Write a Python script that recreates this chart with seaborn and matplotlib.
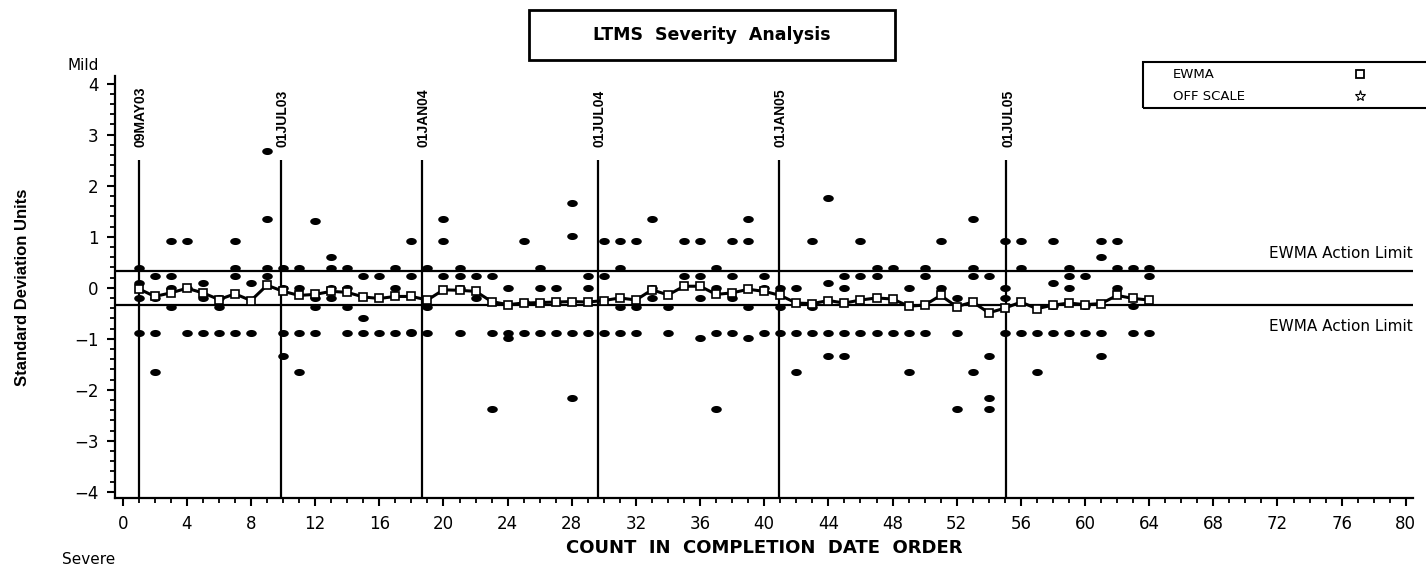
import numpy as np
import pandas as pd
import matplotlib
matplotlib.use("Agg")
import matplotlib.pyplot as plt
from matplotlib import font_manager
from matplotlib.lines import Line2D
from matplotlib.patches import Rectangle
from matplotlib.ticker import MultipleLocator
import seaborn as sns

# individual results per run (standard deviation units), run 1..64
run_results = [
    [0.39, 0.10, -0.21, -0.89], [0.235, -0.21, -0.89, -1.66], [0.92, 0.235, 0.0, -0.37],
    [0.92, 0.0, -0.89], [0.10, -0.21, -0.89], [-0.21, -0.37, -0.89],
    [0.92, 0.39, 0.235, -0.89], [0.10, -0.89], [2.69, 1.35, 0.39, 0.235],
    [0.39, 0.0, -0.89, -1.34], [0.39, 0.0, -0.89, -1.66], [1.31, -0.21, -0.37, -0.89],
    [0.61, 0.39, 0.0, -0.21], [0.39, 0.0, -0.37, -0.89], [0.235, -0.59, -0.89],
    [0.235, -0.89], [0.39, 0.0, -0.89], [0.92, 0.235, -0.87, -0.89],
    [0.39, -0.37, -0.89], [1.35, 0.92, 0.235], [0.39, 0.235, 0.0, -0.89],
    [0.235, -0.21], [0.235, -0.89, -2.38], [0.0, -0.89, -0.99],
    [0.92, -0.27, -0.89], [0.39, 0.0, -0.27, -0.89], [0.0, -0.27, -0.89],
    [1.67, 1.01, -0.89, -2.17], [0.235, 0.0, -0.89], [0.92, 0.235, -0.89],
    [0.92, 0.39, -0.37, -0.89], [0.92, -0.37, -0.89], [1.35, 0.0, -0.21],
    [-0.37, -0.89], [0.92, 0.235], [0.92, 0.235, -0.21, -0.99],
    [0.39, 0.0, -0.89, -2.38], [0.92, 0.235, -0.21, -0.89], [1.35, 0.92, -0.37, -0.99],
    [0.235, 0.0, -0.89], [0.0, -0.37, -0.89], [0.0, -0.89, -1.66],
    [0.92, -0.37, -0.89], [1.76, 0.10, -0.89, -1.34], [0.235, 0.0, -0.89, -1.34],
    [0.92, 0.235, -0.89], [0.39, 0.235, -0.89], [0.39, -0.89],
    [0.0, -0.89, -1.66], [0.39, 0.235, -0.89], [0.92, 0.0],
    [-0.21, -0.89, -2.38], [1.35, 0.39, 0.235, -1.66], [0.235, -1.34, -2.17, -2.38],
    [0.92, 0.0, -0.21, -0.89], [0.92, 0.39, -0.89], [-0.89, -1.66],
    [0.92, 0.10, -0.36, -0.89], [0.39, 0.235, 0.0, -0.89], [0.235, -0.36, -0.89],
    [0.92, 0.61, -0.89, -1.34], [0.92, 0.39, 0.0], [0.39, -0.36, -0.89],
    [0.39, 0.235, -0.89],
]

ewma = [
    -0.02, -0.17, -0.10, -0.01, -0.10, -0.23, -0.12, -0.25, 0.05, -0.07,
    -0.15, -0.13, -0.07, -0.09, -0.18, -0.21, -0.17, -0.17, -0.24, -0.04,
    -0.05, -0.07, -0.27, -0.33, -0.30, -0.29, -0.28, -0.27, -0.28, -0.25,
    -0.20, -0.24, -0.04, -0.14, 0.03, 0.03, -0.13, -0.10, -0.03, -0.07,
    -0.15, -0.30, -0.31, -0.25, -0.30, -0.24, -0.20, -0.22, -0.36, -0.34,
    -0.15, -0.37, -0.28, -0.49, -0.40, -0.28, -0.41, -0.34, -0.30, -0.33,
    -0.31, -0.15, -0.21, -0.24,
]

date_positions = [1.0, 9.85, 18.65, 29.65, 40.9, 55.1]
date_labels = ["09MAY03", "01JUL03", "01JAN04", "01JUL04", "01JAN05", "01JUL05"]
action_limit = 0.33

counts = list(range(1, len(run_results) + 1))
pts = pd.DataFrame(
    [(c, v) for c, vals in zip(counts, run_results) for v in vals],
    columns=["count", "value"],
)
ewma_df = pd.DataFrame({"count": counts, "ewma": ewma})

sns.set_style("ticks")
plt.rcParams["font.family"] = ["DejaVu Sans"]
for k in ("text.color", "axes.labelcolor", "xtick.color", "ytick.color", "axes.edgecolor"):
    plt.rcParams[k] = "black"

names = {f.name for f in font_manager.fontManager.ttflist}
narrow = "Liberation Sans Narrow" if "Liberation Sans Narrow" in names else "Liberation Sans"

W, H = 1426, 565
fig = plt.figure(figsize=(W / 100, H / 100), dpi=100)
ax = fig.add_axes([115 / W, 1 - 498 / H, (1413 - 115) / W, (498 - 76) / H])

# filled ellipse marker like the SAS dot
t = np.linspace(0, 2 * np.pi, 40)
dot = list(zip(1.5 * np.cos(t), np.sin(t)))

sns.scatterplot(data=pts, x="count", y="value", marker=dot, s=58, color="black",
                edgecolor="black", linewidth=0, ax=ax, legend=False, zorder=3)
sns.lineplot(data=ewma_df, x="count", y="ewma", color="black", lw=2.2, marker="s",
             markersize=5.5, markerfacecolor="white", markeredgecolor="black",
             markeredgewidth=1.2, ax=ax, zorder=4)

ax.set_xlim(-0.48, 80.45)
ax.set_ylim(-4.12, 4.15)

for lim in (action_limit, -action_limit):
    ax.axhline(lim, color="black", lw=1.6, zorder=2)
ax.text(80.45, 0.675, "EWMA Action Limit", ha="right", va="center", fontsize=11, clip_on=False)
ax.text(80.45, -0.75, "EWMA Action Limit", ha="right", va="center", fontsize=11, clip_on=False)

ax.vlines(date_positions, -4.12, 2.5, color="black", lw=1.6, zorder=2)
for xp, lab in zip(date_positions, date_labels):
    ax.text(xp + 0.1, 2.75, lab, rotation=90, ha="center", va="bottom",
            family=narrow, fontweight="bold", fontsize=10)

ax.xaxis.set_major_locator(MultipleLocator(4))
ax.xaxis.set_minor_locator(MultipleLocator(1))
ax.yaxis.set_major_locator(MultipleLocator(1))
ax.yaxis.set_minor_locator(MultipleLocator(0.2))
ax.tick_params(which="major", direction="out", length=6, width=1.5, labelsize=12, pad=6)
ax.tick_params(which="minor", direction="out", length=3.5, width=1.3)
for s in ("left", "bottom"):
    ax.spines[s].set_linewidth(1.6)
for s in ("top", "right"):
    ax.spines[s].set_visible(False)
ax.set_xlabel("")
ax.set_ylabel("")

# title box
fig.patches.append(Rectangle((529 / W, 1 - 60 / H), 366 / W, 50 / H, transform=fig.transFigure,
                             fill=False, ec="black", lw=2))
fig.text(712 / W, 1 - 35 / H, "LTMS  Severity  Analysis", ha="center", va="center",
         fontsize=12.5, fontweight="heavy")

fig.text(764 / W, 1 - 548 / H, "COUNT  IN  COMPLETION  DATE  ORDER", ha="center", va="center",
         fontsize=13, fontweight="heavy")
fig.text(23 / W, 1 - 287 / H, "Standard Deviation Units", rotation=90, ha="center", va="center",
         family=narrow, fontweight="bold", fontsize=12)
fig.text(99 / W, 1 - 65 / H, "Mild", ha="right", va="center", fontsize=11)
fig.text(62 / W, 1 - 559 / H, "Severe", ha="left", va="center", fontsize=11)

# legend box
fig.patches.append(Rectangle((1143 / W, 1 - 108 / H), 300 / W, 46 / H, transform=fig.transFigure,
                             fill=False, ec="black", lw=1.5, clip_on=False))
fig.text(1173 / W, 1 - 74 / H, "EWMA", ha="left", va="center", fontsize=9.5)
fig.text(1173 / W, 1 - 97 / H, "OFF SCALE", ha="left", va="center", fontsize=9.5)
fig.add_artist(Line2D([1360 / W], [1 - 74 / H], transform=fig.transFigure, marker="s",
                      markersize=6, mfc="white", mec="black", mew=1.3))
fig.add_artist(Line2D([1360 / W], [1 - 96 / H], transform=fig.transFigure, marker="*",
                      markersize=8, mfc="white", mec="black", mew=0.8))

fig.savefig("out.png", dpi=100)
